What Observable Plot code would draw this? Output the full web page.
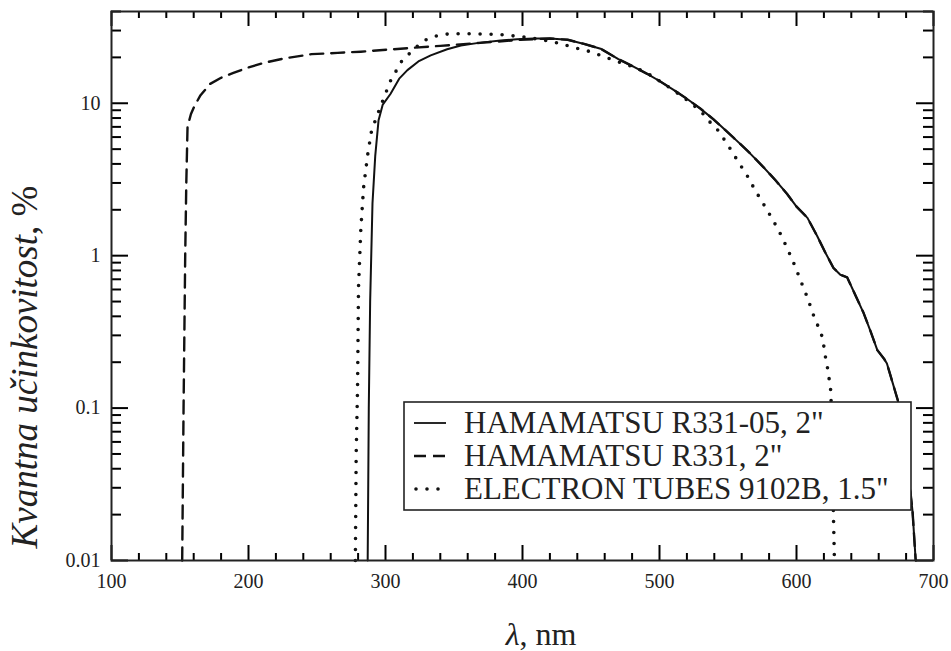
<!DOCTYPE html>
<html>
<head>
<meta charset="utf-8">
<script src="https://cdn.jsdelivr.net/npm/d3@7"></script>
<script src="https://cdn.jsdelivr.net/npm/@observablehq/plot@0.6"></script>
<style>
  body { margin: 0; background: #fff; }
  svg { display: block; }
  #chart svg, #chart svg text { font-family: "Liberation Serif", "Times New Roman", serif !important; }
</style>
</head>
<body>
<div id="chart"></div>
<script>
const seriesNames = ["HAMAMATSU R331-05, 2\"", "HAMAMATSU R331, 2\"", "ELECTRON TUBES 9102B, 1.5\""];
// HAMAMATSU R331-05 (solid): [wavelength nm, quantum efficiency %]
const r33105 = [
  [287.0, 0.01], [287.8, 0.1], [288.8, 0.5], [290.5, 2.2], [292.5, 4.5], [294.9, 7.7],
  [298, 9.8], [303.6, 11.5], [310, 14.5], [316, 16.5], [324, 18.8], [333, 20.6],
  [345, 22.6], [355, 23.9], [368, 24.9], [384, 25.8], [396, 26.3], [408, 26.6],
  [420, 26.6], [433, 26.1], [445, 24.5], [457, 22.8], [470, 19.5], [481, 17.4],
  [491, 15.6], [500, 14.0], [510, 12.3], [520, 10.7], [530, 9.2], [539, 7.9],
  [547, 6.8], [554, 5.95], [565, 4.8], [576, 3.8], [585, 3.1], [593, 2.55],
  [600, 2.1], [608, 1.77], [615, 1.35], [621, 1.05], [627, 0.83], [632, 0.75],
  [637, 0.72], [643, 0.55], [649, 0.42], [654, 0.32], [659, 0.24], [664, 0.21],
  [666, 0.196], [669, 0.159], [674, 0.112], [679, 0.06], [682, 0.035],
  [684.7, 0.021], [687, 0.01]
];
// HAMAMATSU R331 (dashed)
const r331 = [
  [151.6, 0.01], [152.6, 0.1], [153.8, 1], [154.6, 3], [155.5, 7.0], [158, 8.5],
  [160.6, 9.6], [165, 11.3], [172, 13.4], [180, 14.7], [189, 15.8], [200, 17.2],
  [211, 18.4], [225, 19.6], [246, 21.0], [265, 21.4], [282, 21.8], [311, 22.8],
  [340, 23.8], [369, 24.9], [398.5, 26.1], [420, 26.6], [433, 26.1], [445, 24.5],
  [457, 22.8], [470, 19.5], [481, 17.4], [491, 15.6], [500, 14.0], [510, 12.3],
  [520, 10.7], [530, 9.2], [539, 7.9], [547, 6.8], [554, 5.95], [565, 4.8],
  [576, 3.8], [585, 3.1], [593, 2.55], [600, 2.1], [608, 1.77], [615, 1.35],
  [621, 1.05], [627, 0.83], [632, 0.75], [637, 0.72], [643, 0.55], [649, 0.42],
  [654, 0.32], [659, 0.24], [664, 0.21], [666, 0.196], [669, 0.159], [674, 0.112],
  [679, 0.06], [682, 0.035], [684.7, 0.021], [687, 0.01]
];
// ELECTRON TUBES 9102B (dotted)
const et9102b = [
  [278, 0.01], [278.6, 0.05], [279.6, 0.136], [280.3, 0.62], [282, 1.5], [284, 2.8],
  [287, 4.6], [289.8, 6.6], [296, 9.35], [303.6, 14], [312, 19], [318, 21.4],
  [324, 24], [330.7, 26.5], [338, 27.8], [347, 28.6], [364, 28.6], [384, 28.2],
  [398.5, 27.4], [412, 26.3], [425.5, 24.9], [437, 23.3], [449.6, 21.8], [461, 20.0],
  [473.7, 18.2], [482.5, 17.1], [491, 15.8], [500, 14.0], [510, 12.2], [520, 10.5],
  [530, 8.9], [537, 7.5], [543, 6.6], [550, 5.3], [557, 4.2], [564, 3.35],
  [570, 2.67], [577, 2.1], [583, 1.70], [589, 1.35], [594, 1.08], [599, 0.85],
  [603, 0.686], [608, 0.53], [612, 0.416], [616, 0.34], [619, 0.29], [621, 0.22],
  [623, 0.176], [625, 0.13], [626, 0.07], [626.5, 0.035], [627, 0.019], [627.7, 0.01]
];

const xTicks = [100, 200, 300, 400, 500, 600, 700];
const xTickLabels = ["100", "200", "300", "400", "500", "600", "700"];
const yTicks = [0.01, 0.1, 1, 10];
const yTickLabels = ["0.01", "0.1", "1", "10"];
const minorMultipliers = [2, 3, 4, 5, 6, 7, 8, 9];

const xLabel = "nm";
const yLabelItalic = "Kvantna učinkovitost";
const yLabelRest = ", %";

const toRows = (arr, name) => arr.map(([nm, qe]) => ({nm, qe, name}));
const solidData = toRows(r33105, seriesNames[0]);
const dashedData = toRows(r331, seriesNames[1]);
const dottedData = toRows(et9102b, seriesNames[2]);

const xMinor = [];
for (let i = 0; i < xTicks.length - 1; i++) {
  const step = (xTicks[i + 1] - xTicks[i]) / 5;
  for (let k = 1; k < 5; k++) xMinor.push(xTicks[i] + k * step);
}
const yMinor = [];
for (const d of yTicks) for (const m of minorMultipliers) if (d * m <= 40) yMinor.push(d * m);

const ink = "#222";
const fmtX = d => xTickLabels[xTicks.indexOf(d)];
const fmtY = d => yTickLabels[yTicks.indexOf(d)];

// layout
const W = 951, H = 651, mL = 111, mR = 18, mT = 11, mB = 91;
const xDomain = [100, 700], yDomain = [0.01, 40];
const innerW = W - mL - mR, innerH = H - mT - mB;
const pxPerDecade = innerH / Math.log10(yDomain[1] / yDomain[0]);
const pxPerNm = innerW / (xDomain[1] - xDomain[0]);

// inward tick marks as rules (tick length given in pixels, converted to data space)
const tickRule = {stroke: "#000", strokeWidth: 2};
const xRules = (ticks, len) => {
  const f = Math.pow(10, len / pxPerDecade);
  return [
    Plot.ruleX(ticks, {x: d => d, y1: yDomain[0], y2: yDomain[0] * f, ...tickRule}),
    Plot.ruleX(ticks, {x: d => d, y1: yDomain[1], y2: yDomain[1] / f, ...tickRule})
  ];
};
const yRules = (ticks, len) => {
  const d = len / pxPerNm;
  return [
    Plot.ruleY(ticks, {y: v => v, x1: xDomain[0], x2: xDomain[0] + d, ...tickRule}),
    Plot.ruleY(ticks, {y: v => v, x1: xDomain[1], x2: xDomain[1] - d, ...tickRule})
  ];
};

const chart = Plot.plot({
  width: W, height: H,
  marginLeft: mL, marginRight: mR, marginTop: mT, marginBottom: mB,
  style: {
    fontFamily: "'Liberation Serif', 'Times New Roman', serif",
    fontSize: "20px", color: ink, background: "#fff"
  },
  x: {domain: xDomain},
  y: {type: "log", domain: yDomain},
  marks: [
    Plot.line(dashedData, {x: "nm", y: "qe", stroke: "#111", strokeWidth: 2.4, strokeDasharray: "13,8"}),
    Plot.line(dottedData, {x: "nm", y: "qe", stroke: "#111", strokeWidth: 3.6, strokeDasharray: "0,11", strokeLinecap: "round"}),
    Plot.line(solidData, {x: "nm", y: "qe", stroke: "#111", strokeWidth: 2}),
    ...xRules(xTicks, 15),
    ...xRules(xMinor, 7),
    ...yRules(yTicks, 17),
    ...yRules(yMinor, 10),
    Plot.axisX({anchor: "bottom", ticks: xTicks, tickSize: 0, tickPadding: 13, tickFormat: fmtX, label: null, fontSize: 20}),
    Plot.axisY({anchor: "left", ticks: yTicks, tickSize: 0, tickPadding: 11, tickFormat: fmtY, label: null, fontSize: 20}),
    Plot.frame({stroke: ink, strokeWidth: 2})
  ]
});

document.getElementById("chart").appendChild(chart);
const svg = d3.select(chart);

// ---- Titles and legend ----
const serif = "'Liberation Serif', 'Times New Roman', serif";
const yt = svg.append("text")
  .attr("transform", "translate(37,367) rotate(-90)")
  .attr("text-anchor", "middle").attr("font-family", serif)
  .attr("font-size", 37).attr("fill", ink);
yt.append("tspan").attr("font-style", "italic").text(yLabelItalic);
yt.append("tspan").text(yLabelRest);

const xt = svg.append("text")
  .attr("x", 541).attr("y", 645)
  .attr("text-anchor", "middle").attr("font-family", serif)
  .attr("font-size", 32).attr("fill", ink);
xt.append("tspan").attr("font-style", "italic").text("λ");
xt.append("tspan").text(", " + xLabel);

const lg = svg.append("g");
lg.append("rect")
  .attr("x", 404).attr("y", 402).attr("width", 507).attr("height", 108)
  .attr("fill", "#fff").attr("stroke", ink).attr("stroke-width", 1.6);
const dashes = [null, "12,7", "0,11"];
const widths = [1.8, 2.6, 3.6];
seriesNames.forEach((name, i) => {
  const yy = 423 + i * 33;
  lg.append("line")
    .attr("x1", i === 2 ? 416 : 414).attr("x2", i === 2 ? 445 : 446)
    .attr("y1", yy).attr("y2", yy)
    .attr("stroke", "#111").attr("stroke-width", widths[i])
    .attr("stroke-dasharray", dashes[i])
    .attr("stroke-linecap", i === 2 ? "round" : "butt");
  lg.append("text")
    .attr("x", 464).attr("y", yy + 10)
    .attr("text-anchor", "start").attr("font-family", serif).attr("font-size", 31)
    .attr("fill", ink).text(name);
});
</script>
</body>
</html>
